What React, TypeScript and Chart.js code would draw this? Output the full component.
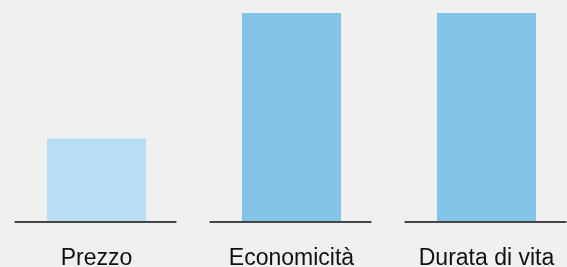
import React, { useEffect, useRef } from "react";
import { Chart, registerables } from "chart.js";

Chart.register(...registerables);

const categories = ["Prezzo", "Economicità", "Durata di vita"];
const values = [2, 5, 5];
const barColors = ["#b9ddf3", "#83c4e7", "#83c4e7"];
const yMax = 5;

const baselinePlugin = {
  id: "baselines",
  afterDatasetsDraw(chart: any) {
    const { ctx, chartArea, scales } = chart;
    const x = scales.x;
    const n = chart.data.labels.length;
    const catW = (chartArea.right - chartArea.left) / n;
    ctx.save();
    ctx.strokeStyle = "#454545";
    ctx.lineWidth = 2;
    for (let i = 0; i < n; i++) {
      const cx = x.getPixelForValue(i) - 1;
      const half = catW * 0.415;
      ctx.beginPath();
      ctx.moveTo(cx - half, chartArea.bottom);
      ctx.lineTo(cx + half, chartArea.bottom);
      ctx.stroke();
    }
    ctx.restore();
  },
};

export default function App() {
  const ref = useRef<HTMLCanvasElement>(null);
  useEffect(() => {
    document.body.style.background = "#f0f0f0";
    const chart = new Chart(ref.current!, {
      type: "bar",
      data: {
        labels: categories,
        datasets: [
          {
            data: values,
            backgroundColor: barColors,
            borderWidth: 0,
            barPercentage: 0.508,
            categoryPercentage: 1,
          },
        ],
      },
      options: {
        animation: false,
        responsive: false,
        maintainAspectRatio: false,
        layout: { padding: { top: 13, left: 0, right: 0, bottom: 0 } },
        plugins: { legend: { display: false }, tooltip: { enabled: false } },
        scales: {
          x: {
            grid: { display: false, drawTicks: false },
            border: { display: false },
            ticks: {
              color: "#111111",
              padding: 23,
              font: { family: "'Liberation Sans', Arial, sans-serif", size: 23 },
              maxRotation: 0,
            },
            afterFit(scale: any) {
              scale.height = 45;
            },
          },
          y: {
            display: false,
            min: 0,
            max: yMax,
          },
        },
      },
      plugins: [baselinePlugin],
    });
    return () => chart.destroy();
  }, []);
  return (
    <div
      style={{
        position: "fixed",
        left: -1,
        top: 0,
        width: 585,
        height: 267,
        background: "#f0f0f0",
      }}
    >
      <canvas ref={ref} width={585} height={267} style={{ display: "block" }} />
    </div>
  );
}
